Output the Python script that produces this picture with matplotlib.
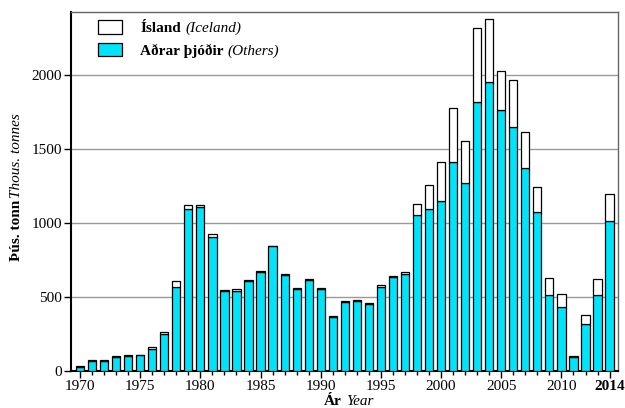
import matplotlib
matplotlib.use('Agg')
import matplotlib.pyplot as plt
from matplotlib.ticker import MultipleLocator

plt.rcParams['font.family'] = 'Liberation Serif'

years = list(range(1970, 2015))
others = [30, 68, 68, 95, 100, 105, 146, 250, 570, 1095,
          1108, 908, 541, 541, 605, 672, 843, 648, 555, 616,
          555, 366, 468, 474, 454, 570, 637, 653, 1056, 1092,
          1149, 1410, 1270, 1815, 1955, 1761, 1649, 1372, 1077, 511,
          432, 93, 315, 511, 1013]
iceland = [4, 4, 4, 4, 6, 3, 14, 16, 36, 24,
           14, 15, 6, 11, 10, 6, 2, 5, 4, 8,
           4, 3, 3, 3, 3, 9, 7, 18, 70, 163,
           261, 369, 284, 505, 423, 266, 317, 241, 168, 120,
           88, 6, 66, 108, 185]
xtick_years = [1970, 1975, 1980, 1985, 1990, 1995, 2000, 2005, 2010, 2014]

cyan = '#00e3f8'

fig = plt.figure(figsize=(6.25, 4.08), dpi=100)
ax = fig.add_axes([0.1136, 0.0907, 0.8752, 0.8799])

b1 = ax.bar(years, others, width=0.68, color=cyan, edgecolor='black', linewidth=0.9, zorder=3)
b2 = ax.bar(years, iceland, bottom=others, width=0.68, color='white', edgecolor='black',
            linewidth=0.9, zorder=3)

ax.set_xlim(1969.25, 2014.7)
ax.set_ylim(0, 2425)
ax.set_yticks([0, 500, 1000, 1500, 2000])
ax.yaxis.grid(True, color='#999999', linewidth=1.0, zorder=0)

ax.set_xticks(xtick_years)
ax.set_xticklabels([str(y) for y in xtick_years])
ax.get_xticklabels()[-1].set_fontweight('bold')
ax.xaxis.set_minor_locator(MultipleLocator(1))
ax.tick_params(axis='both', which='major', labelsize=11, length=5, width=1.0, direction='out', pad=1.5)
ax.tick_params(axis='x', which='minor', length=3, width=1.0, direction='out')

for s in ['left', 'bottom']:
    ax.spines[s].set_linewidth(1.5)
    ax.spines[s].set_color('black')
for s in ['top', 'right']:
    ax.spines[s].set_linewidth(1.0)
    ax.spines[s].set_color('#666666')

leg = ax.legend([b2, b1], ['Ísland', 'Aðrar þjóðir'], loc='upper left', frameon=False,
                prop={'size': 11, 'weight': 'bold'},
                bbox_to_anchor=(0.025, 1.015), handlelength=1.55, handleheight=0.95,
                labelspacing=0.5, handletextpad=1.2)

# italic english part after each legend entry
fig.canvas.draw()
renderer = fig.canvas.get_renderer()
inv = fig.transFigure.inverted()
for t, extra in zip(leg.get_texts(), ['(Iceland)', '(Others)']):
    bb = t.get_window_extent(renderer)
    x, y = inv.transform((bb.x1 + 4, bb.y0))
    fig.text(x, y, extra, fontsize=11, style='italic', ha='left', va='bottom')

fig.text(0.027, 0.51, 'Þús. tonn', rotation=90, fontsize=11, fontweight='bold',
         ha='center', va='top')
fig.text(0.027, 0.515, 'Thous. tonnes', rotation=90, fontsize=11, style='italic',
         ha='center', va='bottom')
fig.text(0.546, 0.0, 'Ár', fontsize=11, fontweight='bold', ha='right', va='bottom')
fig.text(0.554, 0.0, 'Year', fontsize=11, style='italic', ha='left', va='bottom')

fig.savefig('out.png', dpi=100)
